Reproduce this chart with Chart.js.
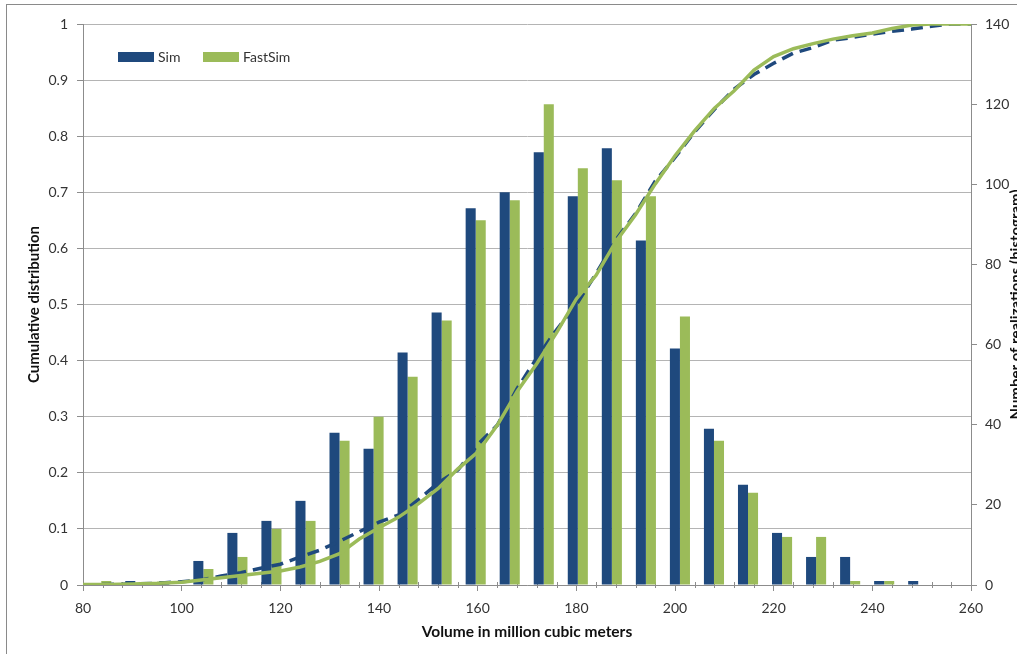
<!DOCTYPE html>
<html>
<head>
<meta charset="utf-8">
<script src="https://cdn.jsdelivr.net/npm/chart.js@4.4.1/dist/chart.umd.min.js"></script>
<style>
  html, body { margin: 0; padding: 0; background: #fff; overflow: hidden; }
  #wrap { position: relative; width: 1017px; height: 654px; }
</style>
</head>
<body>
<div id="wrap"><canvas id="c" width="1017" height="654"></canvas></div>
<script>
// histogram bins (bar centres, million m3) and counts per bin
const binCenters = [83.7, 90.6, 97.5, 104.4, 111.3, 118.2, 125.1, 132.0, 138.9, 145.8, 152.7, 159.6, 166.5,
  173.4, 180.3, 187.2, 194.1, 201.0, 207.9, 214.8, 221.7, 228.6, 235.5, 242.4, 249.3];
const simCounts = [0, 1, 1, 6, 13, 16, 21, 38, 34, 58, 68, 94, 98, 108, 97, 109, 86, 59, 39, 25, 13, 7, 7, 1, 1];
const fastSimCounts = [1, 0, 0, 4, 7, 14, 16, 36, 42, 52, 66, 91, 96, 120, 104, 101, 97, 67, 36, 23, 12, 12, 1, 1, 0];

// cumulative distribution curves
const cdfX = [80, 85, 90, 95, 100, 104, 108, 112, 116, 120, 124, 128, 132, 136, 140, 144, 148, 152, 156, 160,
  164, 168, 172, 176, 180, 184, 188, 192, 196, 200, 204, 208, 212, 216, 220, 224, 228, 232, 236, 240,
  244, 248, 252, 256, 260];
const simCdf = [0, 0.001, 0.002, 0.003, 0.006, 0.009, 0.016, 0.022, 0.03, 0.037, 0.05, 0.062, 0.078, 0.095,
  0.112, 0.125, 0.152, 0.182, 0.205, 0.25, 0.285, 0.35, 0.405, 0.455, 0.5, 0.555, 0.615, 0.662, 0.72,
  0.762, 0.808, 0.848, 0.884, 0.91, 0.93, 0.948, 0.958, 0.971, 0.976, 0.982, 0.987, 0.991, 0.996, 1, 1];
const fastSimCdf = [0.001, 0.001, 0.002, 0.003, 0.005, 0.009, 0.013, 0.017, 0.021, 0.025, 0.032, 0.042, 0.056,
  0.082, 0.102, 0.121, 0.145, 0.172, 0.207, 0.237, 0.285, 0.345, 0.395, 0.45, 0.51, 0.552, 0.612, 0.66,
  0.715, 0.765, 0.81, 0.85, 0.881, 0.918, 0.942, 0.956, 0.965, 0.973, 0.979, 0.984, 0.992, 0.998, 1, 1, 1];

const seriesNames = ['Sim', 'FastSim'];
const xTitle = 'Volume in million cubic meters';
const yLeftTitle = 'Cumulative distribution';
const yRightTitle = 'Number of realizations (histogram)';

const BLUE = '#1F497D';
const GREEN = '#9BBB59';
const GRID = '#b4b4b4';
const AXIS = '#8c8c8c';
const TEXT = '#333333';
const FONT = 'Lato, "Open Sans", sans-serif';

Chart.defaults.font.family = FONT;
Chart.defaults.font.size = 14;
Chart.defaults.color = TEXT;

const pts = (xs, ys) => xs.map((x, i) => ({ x, y: ys[i] }));

// frame, minor ticks, custom legend and right-hand title
const decor = {
  id: 'decor',
  beforeDraw(chart) {
    const ctx = chart.ctx;
    ctx.save();
    ctx.strokeStyle = '#8a8a8a';
    ctx.lineWidth = 1;
    ctx.strokeRect(6.5, 4.5, 1200, 1200);
    ctx.restore();
  },
  beforeDatasetsDraw(chart) {
    const ctx = chart.ctx;
    const xs = chart.scales.x;
    const y0 = chart.chartArea.bottom;
    ctx.save();
    ctx.strokeStyle = AXIS;
    ctx.lineWidth = 1;
    for (let v = 84; v < 260; v += 4) {
      if (v % 20 === 0) continue;
      const px = Math.round(xs.getPixelForValue(v)) + 0.5;
      ctx.beginPath();
      ctx.moveTo(px, y0 - 3);
      ctx.lineTo(px, y0 + 3);
      ctx.stroke();
    }
    ctx.restore();
  },
  afterDraw(chart) {
    const ctx = chart.ctx;
    ctx.save();
    const items = [
      { label: seriesNames[0], color: BLUE, x: 118 },
      { label: seriesNames[1], color: GREEN, x: 203 },
    ];
    ctx.font = '14px ' + FONT;
    ctx.textBaseline = 'middle';
    ctx.textAlign = 'left';
    items.forEach((it) => {
      ctx.fillStyle = it.color;
      ctx.fillRect(it.x, 52, 36, 10);
      ctx.fillStyle = TEXT;
      ctx.fillText(it.label, it.x + 40, 57);
    });
    // right axis title, reads bottom to top, clipped by the page edge
    ctx.font = 'bold 15px ' + FONT;
    ctx.fillStyle = '#111';
    ctx.translate(1021, (chart.chartArea.top + chart.chartArea.bottom) / 2);
    ctx.rotate(-Math.PI / 2);
    ctx.textAlign = 'center';
    ctx.textBaseline = 'alphabetic';
    ctx.fillText(yRightTitle, 0, 0);
    ctx.restore();
  },
};

new Chart(document.getElementById('c'), {
  type: 'bar',
  data: {
    datasets: [
      {
        type: 'line',
        label: 'FastSim CDF',
        data: pts(cdfX, fastSimCdf),
        xAxisID: 'x',
        yAxisID: 'yL',
        borderColor: GREEN,
        borderWidth: 3.5,
        pointRadius: 0,
        tension: 0,
        order: 0,
      },
      {
        type: 'line',
        label: 'Sim CDF',
        data: pts(cdfX, simCdf),
        xAxisID: 'x',
        yAxisID: 'yL',
        borderColor: BLUE,
        borderWidth: 3.5,
        borderDash: [12, 7],
        pointRadius: 0,
        tension: 0,
        order: 1,
      },
      {
        label: seriesNames[0],
        data: pts(binCenters, simCounts),
        xAxisID: 'x',
        yAxisID: 'yR',
        backgroundColor: BLUE,
        categoryPercentage: 0.59,
        barPercentage: 1,
        order: 2,
      },
      {
        label: seriesNames[1],
        data: pts(binCenters, fastSimCounts),
        xAxisID: 'x',
        yAxisID: 'yR',
        backgroundColor: GREEN,
        categoryPercentage: 0.59,
        barPercentage: 1,
        order: 3,
      },
    ],
  },
  options: {
    responsive: false,
    animation: false,
    devicePixelRatio: 1,
    layout: { padding: { top: 24, left: 0, right: 0, bottom: 0 } },
    plugins: {
      legend: { display: false },
      tooltip: { enabled: false },
    },
    scales: {
      x: {
        type: 'linear',
        min: 80,
        max: 260,
        offset: false,
        ticks: { stepSize: 20, padding: 9, color: TEXT },
        grid: { offset: false, drawOnChartArea: false, drawTicks: true, tickLength: 6, color: AXIS },
        border: { color: AXIS },
        title: {
          display: true,
          text: xTitle,
          color: '#111',
          font: { weight: 'bold', size: 15.5 },
          padding: { top: 0, bottom: 13 },
        },
        afterFit(s) { s.height = 69; },
      },
      yL: {
        type: 'linear',
        position: 'left',
        min: 0,
        max: 1,
        ticks: {
          stepSize: 0.1,
          padding: 9,
          color: TEXT,
          callback: (v) => String(Number(v.toFixed(1))),
        },
        grid: { color: GRID, tickColor: AXIS, tickLength: 6 },
        border: { color: AXIS },
        title: {
          display: true,
          text: yLeftTitle,
          color: '#111',
          font: { weight: 'bold', size: 15 },
          padding: { top: 25, bottom: 0 },
        },
        afterFit(s) { s.width = 83; },
      },
      yR: {
        type: 'linear',
        position: 'right',
        min: 0,
        max: 140,
        ticks: { stepSize: 20, padding: 8, color: TEXT },
        grid: { drawOnChartArea: false, color: AXIS, tickLength: 6 },
        border: { color: AXIS },
        afterFit(s) { s.width = 46; },
      },
    },
  },
  plugins: [decor],
});
</script>
</body>
</html>
